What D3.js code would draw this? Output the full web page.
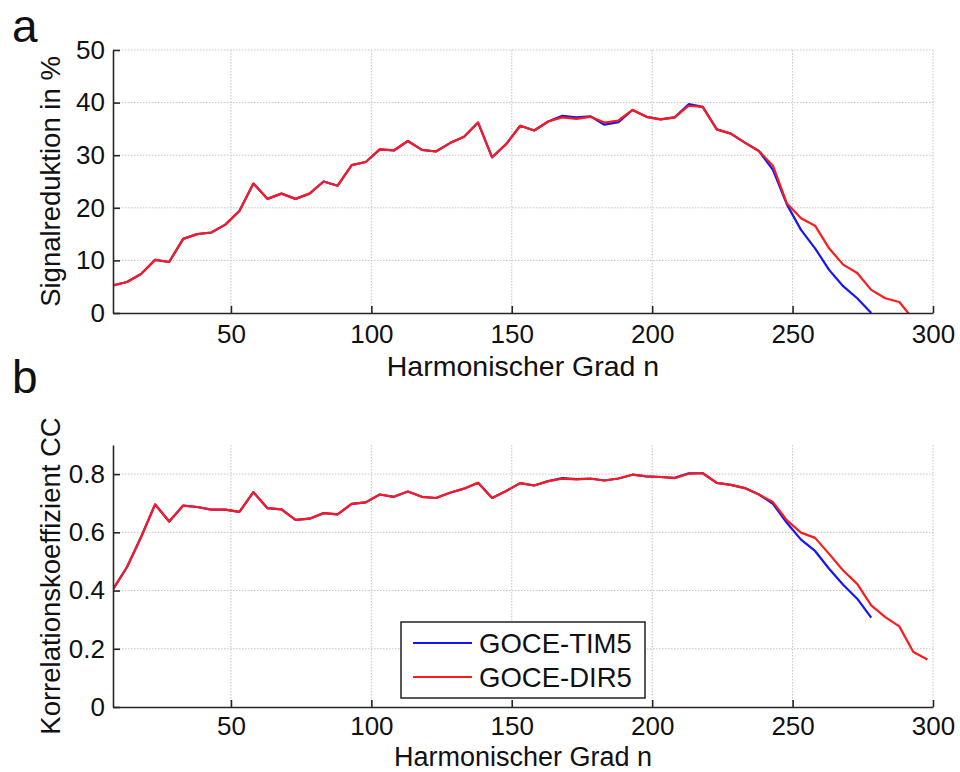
<!DOCTYPE html>
<html>
<head>
<meta charset="utf-8">
<script src="https://cdn.jsdelivr.net/npm/d3@7"></script>
<style>
  html, body { margin: 0; padding: 0; background: #fff; }
  svg { display: block; font-family: "Liberation Sans", Arial, Helvetica, sans-serif; }
</style>
</head>
<body>
<svg id="chart" width="960" height="772"></svg>
<script>
// Harmonic degrees at which the values are given
const degree = [8, 13, 18, 23, 28, 33, 38, 43, 48, 53, 58, 63, 68, 73, 78, 83, 88, 93, 98,
  103, 108, 113, 118, 123, 128, 133, 138, 143, 148, 153, 158, 163, 168, 173, 178, 183, 188, 193, 198,
  203, 208, 213, 218, 223, 228, 233, 238, 243, 248, 253, 258, 263, 268, 273, 278, 283, 288, 293, 298];

// Panel a: signal reduction in %
const sigTIM5 = [5.25, 5.9, 7.4, 10.1, 9.7, 14.1, 15.0, 15.3, 16.8, 19.4, 24.6, 21.7, 22.7, 21.7, 22.7, 25.0, 24.2, 28.1, 28.7,
  31.1, 30.9, 32.7, 31.0, 30.7, 32.3, 33.5, 36.2, 29.6, 32.1, 35.6, 34.7, 36.4, 37.5, 37.2, 37.4, 35.8, 36.3, 38.6, 37.3,
  36.8, 37.2, 39.7, 39.2, 34.9, 34.1, 32.4, 30.8, 27.2, 20.6, 15.8, 12.3, 8.2, 5.1, 2.8, 0.0];
const sigDIR5 = [5.25, 5.9, 7.4, 10.1, 9.7, 14.1, 15.0, 15.3, 16.8, 19.4, 24.6, 21.7, 22.7, 21.7, 22.7, 25.0, 24.2, 28.1, 28.7,
  31.1, 30.9, 32.7, 31.0, 30.7, 32.3, 33.5, 36.2, 29.6, 32.1, 35.6, 34.7, 36.4, 37.2, 36.9, 37.3, 36.2, 36.6, 38.6, 37.3,
  36.8, 37.2, 39.4, 39.2, 34.9, 34.1, 32.4, 30.8, 28.0, 20.8, 18.0, 16.6, 12.3, 9.2, 7.6, 4.4, 2.8, 2.1, -1.2];

// Panel b: correlation coefficient
const ccTIM5 = [0.404, 0.481, 0.584, 0.696, 0.637, 0.692, 0.687, 0.678, 0.678, 0.670, 0.738, 0.683, 0.679, 0.643, 0.647, 0.666, 0.662, 0.698, 0.703,
  0.730, 0.722, 0.740, 0.722, 0.718, 0.736, 0.750, 0.770, 0.718, 0.742, 0.769, 0.761, 0.776, 0.786, 0.783, 0.785, 0.778, 0.785, 0.798, 0.792,
  0.790, 0.787, 0.803, 0.803, 0.770, 0.763, 0.752, 0.730, 0.698, 0.632, 0.575, 0.536, 0.475, 0.420, 0.372, 0.307];
const ccDIR5 = [0.404, 0.481, 0.584, 0.696, 0.637, 0.692, 0.687, 0.678, 0.678, 0.670, 0.738, 0.683, 0.679, 0.643, 0.647, 0.666, 0.662, 0.698, 0.703,
  0.730, 0.722, 0.740, 0.722, 0.718, 0.736, 0.750, 0.770, 0.718, 0.742, 0.769, 0.761, 0.776, 0.784, 0.782, 0.784, 0.778, 0.785, 0.798, 0.792,
  0.790, 0.786, 0.801, 0.803, 0.770, 0.763, 0.752, 0.730, 0.704, 0.641, 0.599, 0.581, 0.526, 0.469, 0.423, 0.349, 0.309, 0.277, 0.189, 0.163];

// Axis ticks
const xTicks = [50, 100, 150, 200, 250, 300];
const sigTicks = [0, 10, 20, 30, 40, 50];
const ccTicks = [0, 0.2, 0.4, 0.6, 0.8];

const seriesNames = ["GOCE-TIM5", "GOCE-DIR5"];
const seriesColors = ["#1414ff", "#ff1a1a"];

const svg = d3.select("#chart");
const left = 113, right = 933;

function panel(cfg) {
  const g = svg.append("g");
  const x = d3.scaleLinear().domain([8, 300]).range([left, right]);
  const y = d3.scaleLinear().domain(cfg.yDomain).range([cfg.bottom, cfg.top]);

  const clipId = "clip-" + cfg.id;
  svg.append("clipPath").attr("id", clipId)
    .append("rect").attr("x", left).attr("y", cfg.top - 2)
    .attr("width", right - left).attr("height", cfg.bottom - cfg.top + 2);

  // dotted grid
  const grid = g.append("g").attr("stroke", "#c4c4c4").attr("stroke-width", 1)
    .attr("stroke-dasharray", "1.5,1.5");
  grid.selectAll("line.v").data(xTicks).join("line").attr("class", "v")
    .attr("x1", d => x(d)).attr("x2", d => x(d))
    .attr("y1", cfg.top).attr("y2", cfg.bottom);
  grid.selectAll("line.h").data(cfg.yTicks.filter(d => d > 0)).join("line").attr("class", "h")
    .attr("x1", left).attr("x2", right)
    .attr("y1", d => y(d)).attr("y2", d => y(d));

  // data lines
  const line = d3.line().x(d => x(d[0])).y(d => y(d[1]));
  const lines = g.append("g").attr("clip-path", `url(#${clipId})`);
  cfg.series.forEach((vals, i) => {
    lines.append("path")
      .datum(vals.map((v, j) => [degree[j], v]))
      .attr("fill", "none")
      .attr("stroke", seriesColors[i])
      .attr("stroke-width", 2.2)
      .attr("stroke-linejoin", "round")
      .attr("d", line);
  });

  // axes with inward ticks
  const xAxis = d3.axisBottom(x).tickValues(xTicks).tickSizeInner(-7).tickSizeOuter(0)
    .tickPadding(cfg.xTickPad);
  const yAxis = d3.axisLeft(y).tickValues(cfg.yTicks).tickSizeInner(-7).tickSizeOuter(0).tickPadding(8)
    .tickFormat(cfg.fmt);
  const gx = g.append("g").attr("transform", `translate(0,${cfg.bottom})`).call(xAxis);
  const gy = g.append("g").attr("transform", `translate(${left},0)`).call(yAxis);
  [gx, gy].forEach(a => {
    a.select(".domain").attr("stroke", "#262626").attr("stroke-width", 1.6);
    a.selectAll(".tick line").attr("stroke", "#262626").attr("stroke-width", 1.6);
    a.selectAll(".tick text").attr("fill", "#111").style("font-size", "26px")
      .style("font-family", "'Liberation Sans', Arial, sans-serif");
  });

  // titles
  g.append("text").attr("x", (left + right) / 2).attr("y", cfg.bottom + cfg.xTitleGap)
    .attr("text-anchor", "middle").style("font-size", cfg.xTitleSize + "px").attr("fill", "#111")
    .text("Harmonischer Grad n");
  g.append("text")
    .attr("transform", `translate(60,${(cfg.top + cfg.bottom) / 2}) rotate(-90)`)
    .attr("text-anchor", "middle").style("font-size", "27.5px").attr("fill", "#111")
    .text(cfg.yTitle);
  g.append("text").attr("x", 12).attr("y", cfg.labelY)
    .style("font-size", "46px").attr("fill", "#111").text(cfg.label);
  return { x, y, g };
}

panel({
  id: "a", top: 50, bottom: 313, yDomain: [0, 50], yTicks: sigTicks,
  fmt: d3.format("d"), series: [sigTIM5, sigDIR5],
  xTickPad: 12, xTitleGap: 63, xTitleSize: 28.5,
  yTitle: "Signalreduktion in %", label: "a", labelY: 42
});

panel({
  id: "b", top: 445, bottom: 707, yDomain: [0, 0.9], yTicks: ccTicks,
  fmt: d => d === 0 ? "0" : d3.format(".1f")(d), series: [ccTIM5, ccDIR5],
  xTickPad: 9.5, xTitleGap: 59, xTitleSize: 27,
  yTitle: "Korrelationskoeffizient CC", label: "b", labelY: 393
});

// legend
const lg = svg.append("g").attr("transform", "translate(401,622)");
lg.append("rect").attr("width", 244).attr("height", 76)
  .attr("fill", "#fff").attr("stroke", "#222").attr("stroke-width", 1.5);
seriesNames.forEach((name, i) => {
  const yy = 21 + i * 34;
  lg.append("line").attr("x1", 12).attr("x2", 71).attr("y1", yy).attr("y2", yy)
    .attr("stroke", seriesColors[i]).attr("stroke-width", 2.2);
  lg.append("text").attr("x", 78).attr("y", yy).attr("dy", "0.35em")
    .style("font-size", "27.5px").attr("fill", "#111").text(name);
});
</script>
</body>
</html>
